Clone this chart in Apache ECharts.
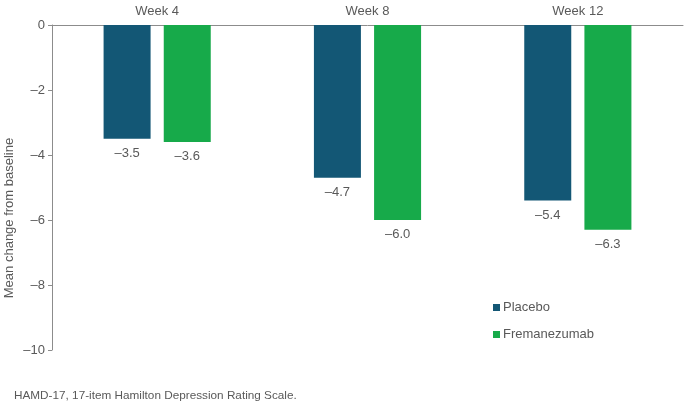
<!DOCTYPE html>
<html>
<head>
<meta charset="utf-8">
<script src="https://cdn.jsdelivr.net/npm/echarts@6/dist/echarts.min.js"></script>
<style>
  html, body { margin: 0; padding: 0; background: #fff; }
  #chart { width: 685px; height: 408px; }
</style>
</head>
<body>
<div id="chart"></div>
<script>
var weeks = ['Week 4', 'Week 8', 'Week 12']
var placebo = [-3.5, -4.7, -5.4]
var fremanezumab = [-3.6, -6.0, -6.3]

var textColor = '#595959'
var font = 'Liberation Sans, Arial, sans-serif'

function minus (v) {
  return String(v).replace('-', '\u2013')
}

var chart = echarts.init(document.getElementById('chart'))

chart.setOption({
  animation: false,
  textStyle: {fontFamily: font},
  grid: {left: 52, right: 2, top: 25, bottom: 58, outerBoundsMode: 'none', containLabel: false},
  legend: {
    orient: 'vertical',
    left: 488,
    top: 296,
    itemWidth: 7,
    itemHeight: 7,
    itemGap: 14,
    icon: 'rect',
    textStyle: {color: textColor, fontSize: 13, fontFamily: font, padding: [0, 0, 0, -2]},
    data: ['Placebo', 'Fremanezumab']
  },
  xAxis: {
    type: 'category',
    position: 'top',
    data: weeks,
    axisLine: {lineStyle: {color: '#8c8c8c', width: 1}},
    axisTick: {show: false},
    axisLabel: {color: textColor, fontSize: 13, margin: 7}
  },
  yAxis: {
    type: 'value',
    min: -10,
    max: 0,
    interval: 2,
    axisLine: {show: true, lineStyle: {color: '#8c8c8c', width: 1}},
    axisTick: {show: true, length: 4, lineStyle: {color: '#8c8c8c'}},
    splitLine: {show: false},
    axisLabel: {color: textColor, fontSize: 13, margin: 7, formatter: minus}
  },
  series: [
    {
      name: 'Placebo',
      type: 'bar',
      data: placebo,
      barWidth: 47,
      barGap: '28%',
      itemStyle: {color: '#135775'},
      label: {show: true, position: 'bottom', distance: 8, color: textColor, fontSize: 13,
        formatter: function (p) { return minus(p.value.toFixed(1)) }}
    },
    {
      name: 'Fremanezumab',
      type: 'bar',
      data: fremanezumab,
      barWidth: 47,
      itemStyle: {color: '#17aa4a'},
      label: {show: true, position: 'bottom', distance: 8, color: textColor, fontSize: 13,
        formatter: function (p) { return minus(p.value.toFixed(1)) }}
    }
  ],
  graphic: [
    {
      type: 'text',
      x: 9,
      y: 218,
      rotation: Math.PI / 2,
      style: {text: 'Mean change from baseline', fill: textColor, fontSize: 13, fontFamily: font,
        align: 'center', verticalAlign: 'middle'}
    },
    {
      type: 'text',
      left: 14,
      top: 390,
      style: {text: 'HAMD-17, 17-item Hamilton Depression Rating Scale.', fill: textColor, fontSize: 11.75, fontFamily: font}
    }
  ]
})
</script>
</body>
</html>
